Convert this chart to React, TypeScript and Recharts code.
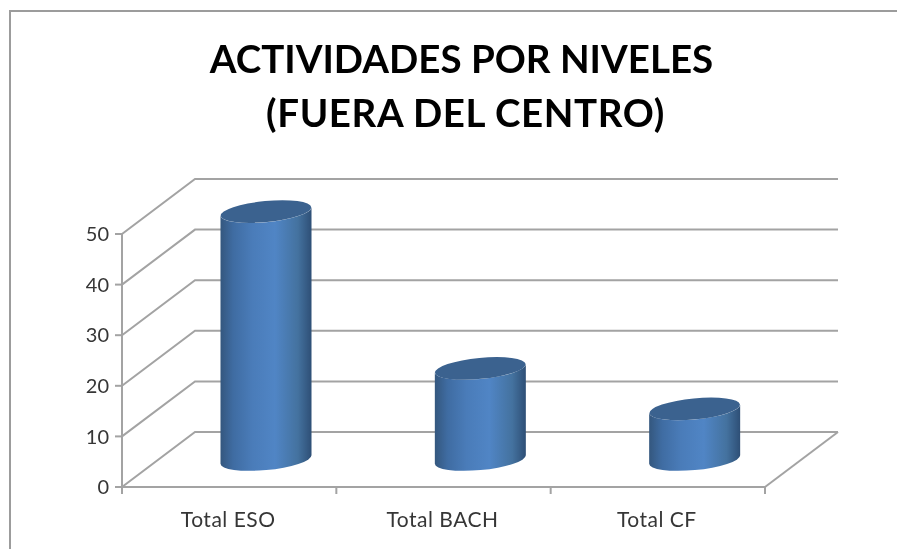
import { Bar, BarChart, CartesianGrid, ReferenceLine, XAxis, YAxis } from "recharts";

const categories = ["Total ESO", "Total BACH", "Total CF"];
const activities = [49, 18, 10];
const yTicks = [0, 10, 20, 30, 40, 50];
const titleLines = ["ACTIVIDADES POR NIVELES", "(FUERA DEL CENTRO)"];

const data = categories.map((name, i) => ({ name, activities: activities[i] }));

const FONT = "Lato, 'Open Sans', sans-serif";
const LINE = "#a3a3a3";
const TEXT = "#363636";
// how far the back wall sits from the front of the plot
const DEPTH_X = 73;
const DEPTH_Y = 55;

function GridLine({ x1, y1, x2 }: any) {
	return (
		<polyline
			points={`${x1},${y1} ${x1 + DEPTH_X},${y1 - DEPTH_Y} ${x2 + DEPTH_X},${y1 - DEPTH_Y}`}
			fill="none"
			stroke={LINE}
			strokeWidth={2}
		/>
	);
}

function FloorEdge({ x2, y2 }: any) {
	return (
		<line
			x1={x2}
			y1={y2}
			x2={x2 + DEPTH_X}
			y2={y2 - DEPTH_Y}
			stroke={LINE}
			strokeWidth={2}
		/>
	);
}

// tick marks sit between the categories, the label stays in the middle
function CategoryTick({ x, y, width, visibleTicksCount, index, payload }: any) {
	const band = width / visibleTicksCount;
	const right = x + band / 2;
	const left = x - band / 2;
	return (
		<g>
			{index === 0 && (
				<line x1={left} y1={y} x2={left} y2={y + 7} stroke={LINE} strokeWidth={2} />
			)}
			<line x1={right} y1={y} x2={right} y2={y + 7} stroke={LINE} strokeWidth={2} />
			<text
				x={x - 1}
				y={y + 40}
				textAnchor="middle"
				fontFamily={FONT}
				fontSize={21}
				letterSpacing={0.5}
				fill={TEXT}
			>
				{payload.value}
			</text>
		</g>
	);
}

function Cylinder({ x, y, width, height }: any) {
	const cx = x + width / 2 + DEPTH_X / 2;
	const top = y - DEPTH_Y / 2;
	const base = y + height - DEPTH_Y / 2;
	const rx = width / 2;
	const ry = 10.5;
	const rot = -5.5;
	const tilt = 4.2;
	const body = `M${cx - rx},${top + tilt} L${cx - rx},${base + tilt} A${rx},${ry} ${rot} 0 0 ${cx + rx},${base - tilt} L${cx + rx},${top - tilt} A${rx},${ry} ${rot} 0 1 ${cx - rx},${top + tilt} Z`;
	return (
		<g>
			<path d={body} fill="url(#cylinderSide)" />
			<ellipse
				cx={cx}
				cy={top}
				rx={rx}
				ry={ry}
				fill="#3b628f"
				transform={`rotate(${rot} ${cx} ${top})`}
			/>
		</g>
	);
}

export default function App() {
	return (
		<div
			style={{
				position: "absolute",
				left: 0,
				top: 0,
				width: 897,
				height: 549,
				background: "#fff",
				overflow: "hidden",
				filter: "blur(0.4px)",
			}}
		>
			<div
				style={{
					position: "absolute",
					left: 9,
					top: 10,
					width: 920,
					height: 560,
					border: "2px solid #9c9c9c",
					boxSizing: "border-box",
				}}
			/>
			{titleLines.map((line, i) => (
				<div
					key={line}
					style={{
						position: "absolute",
						left: 0,
						width: 923 + i * 8,
						top: 31 + i * 54,
						textAlign: "center",
						fontFamily: FONT,
						fontWeight: 700,
						fontSize: 38.5,
						letterSpacing: i * 0.6,
						lineHeight: "54px",
						color: "#000",
						whiteSpace: "nowrap",
					}}
				>
					{line}
				</div>
			))}
			<div style={{ position: "absolute", left: 0, top: 0 }}>
				<BarChart
					width={897}
					height={549}
					data={data}
					margin={{ top: 234, right: 132, bottom: 0, left: 0 }}
					barSize={91}
				>
					<defs>
						<linearGradient id="cylinderSide" x1="0" y1="0" x2="1" y2="0">
							<stop offset="0%" stopColor="#34577e" />
							<stop offset="14%" stopColor="#3f6ca2" />
							<stop offset="35%" stopColor="#4a7cb9" />
							<stop offset="60%" stopColor="#5085c5" />
							<stop offset="85%" stopColor="#44729f" />
							<stop offset="100%" stopColor="#2e4f76" />
						</linearGradient>
					</defs>
					<CartesianGrid horizontal={GridLine} vertical={false} />
					<ReferenceLine y={0} stroke={LINE} shape={FloorEdge} />
					<XAxis
						dataKey="name"
						height={62}
						axisLine={{ stroke: LINE, strokeWidth: 2 }}
						tickLine={false}
						tickSize={0}
						tickMargin={0}
						interval={0}
						tick={CategoryTick}
					/>
					<YAxis
						domain={[0, 50]}
						ticks={yTicks}
						width={122}
						axisLine={{ stroke: LINE, strokeWidth: 2 }}
						tickLine={{ stroke: LINE, strokeWidth: 2 }}
						tickSize={7}
						tickMargin={6}
						tick={{ fontFamily: FONT, fontSize: 20, fill: TEXT }}
					/>
					<Bar dataKey="activities" shape={Cylinder} isAnimationActive={false} />
				</BarChart>
			</div>
		</div>
	);
}
